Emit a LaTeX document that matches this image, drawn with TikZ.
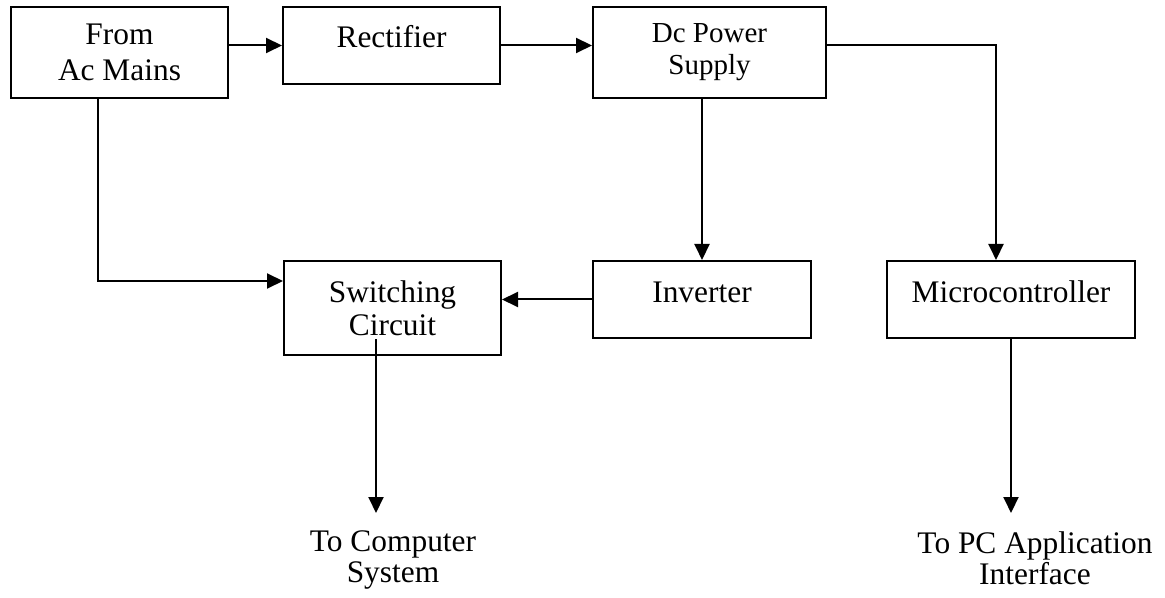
\documentclass[tikz,border=0pt]{standalone}
\usepackage{fontspec}
\setmainfont{Liberation Serif}
\usetikzlibrary{arrows.meta}
\begin{document}
\begin{tikzpicture}[x=0.5pt,y=-0.5pt]
\tikzset{
 box/.style={draw, line width=1pt, rectangle, inner sep=0pt, align=center, font=\fontsize{15.7}{18}\selectfont},
 arr/.style={line width=1pt, -{Triangle[length=8pt,width=7.5pt]}},
 outtxt/.style={align=center, inner xsep=0pt, anchor=north, font=\fontsize{15.7}{15.2}\selectfont}
}
\useasboundingbox (0,0) rectangle (1165,598);
\node[box, minimum width=108.5pt, minimum height=45.5pt] (ac) at (119.5,52.5) {From\\Ac Mains};
\node[box, minimum width=108.5pt, minimum height=38.5pt, text height=12pt, text depth=9.5pt] (rect) at (391.5,45.5) {Rectifier};
\node[box, minimum width=116.5pt, minimum height=45.5pt, font=\fontsize{14.5}{16}\selectfont] (dc) at (709.5,52.5) {Dc Power\\Supply};
\node[box, minimum width=108.5pt, minimum height=47pt, font=\fontsize{15.7}{16.5}\selectfont] (sw) at (392.5,308) {Switching\\Circuit};
\node[box, minimum width=109pt, minimum height=38.5pt, text height=12pt, text depth=9.5pt] (inv) at (702,299.5) {Inverter};
\node[box, minimum width=124pt, minimum height=38.5pt, text height=12pt, text depth=9.5pt] (mc) at (1011,299.5) {Microcontroller};
\node[outtxt, inner ysep=8.85pt] (out1) at (393,513) {To Computer\\System};
\node[outtxt, inner ysep=9.3pt] (out2) at (1035,513) {To PC Application\\Interface};
\coordinate (s1) at ([xshift=-8.25pt,yshift=8.5pt]sw.south);
\draw[arr] (rect.west -| ac.east) -- (rect.west);
\draw[arr] (rect.east) -- (rect.east -| dc.west);
\draw[arr] (rect.east -| dc.east) -| ([xshift=-7.5pt]mc.north);
\draw[arr] (inv.north |- dc.south) -- (inv.north);
\draw[arr] (inv.west) -- (inv.west -| sw.east);
\draw[arr] ([xshift=-10.75pt]ac.south) |- ([yshift=13.5pt]sw.west);
\draw[arr] (s1) -- (s1 |- out1.north);
\draw[arr] (mc.south) -- (mc.south |- out2.north);
\end{tikzpicture}
\end{document}
